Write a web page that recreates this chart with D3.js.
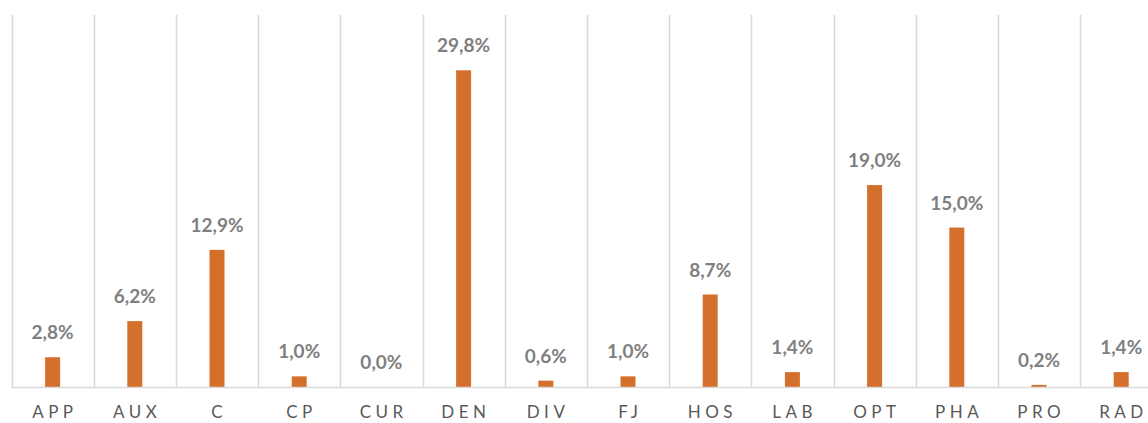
<!DOCTYPE html>
<html>
<head>
<meta charset="utf-8">
<script src="https://cdn.jsdelivr.net/npm/d3@7"></script>
<style>
  body { margin: 0; background: #fff; }
  .value-label { font-family: Lato, sans-serif; font-weight: bold; font-size: 19px; fill: #7f7f7f; }
  .cat-label { font-family: Lato, sans-serif; font-size: 17px; fill: #595959; letter-spacing: 4.5px; }
</style>
</head>
<body>
<div id="wrapper"></div>
<script>
// data
const categories = ['APP', 'AUX', 'C', 'CP', 'CUR', 'DEN', 'DIV', 'FJ', 'HOS', 'LAB', 'OPT', 'PHA', 'PRO', 'RAD']
const shares = [2.8, 6.2, 12.9, 1.0, 0.0, 29.8, 0.6, 1.0, 8.7, 1.4, 19.0, 15.0, 0.2, 1.4]

const dimensions = {
  width: 1148,
  height: 423,
  left: 11.5,
  step: 82.2,
  top: 15,
  baseline: 387,
  barWidth: 15,
}

const wrapper = d3.select('#wrapper')
  .append('svg')
    .attr('width', dimensions.width)
    .attr('height', dimensions.height)

// scales
const xScale = d3.scaleBand()
  .domain(categories)
  .range([dimensions.left, dimensions.left + dimensions.step * categories.length])

const yScale = d3.scaleLinear()
  .domain([0, 35])
  .range([dimensions.baseline, dimensions.top])

const fmt = v => v.toFixed(1).replace('.', ',') + '%'

// gridlines between categories
const edges = categories.map(c => xScale(c)).concat([xScale.range()[1]])
wrapper.append('g')
  .selectAll('line')
  .data(edges)
  .join('line')
    .attr('x1', d => Math.round(d) + 0.5)
    .attr('x2', d => Math.round(d) + 0.5)
    .attr('y1', dimensions.top)
    .attr('y2', dimensions.baseline)
    .attr('stroke', '#d9d9d9')
    .attr('stroke-width', 1.5)

// bars
wrapper.append('g')
  .selectAll('rect')
  .data(shares)
  .join('rect')
    .attr('x', (d, i) => xScale(categories[i]) + xScale.bandwidth() / 2 - dimensions.barWidth / 2)
    .attr('y', d => yScale(d))
    .attr('width', dimensions.barWidth)
    .attr('height', d => Math.max(0, dimensions.baseline - yScale(d)))
    .attr('fill', '#d4702b')

// baseline
wrapper.append('line')
  .attr('x1', dimensions.left)
  .attr('x2', dimensions.width)
  .attr('y1', dimensions.baseline + 0.5)
  .attr('y2', dimensions.baseline + 0.5)
  .attr('stroke', '#d9d9d9')
  .attr('stroke-width', 1.5)

// value labels
wrapper.append('g')
  .selectAll('text')
  .data(shares)
  .join('text')
    .attr('class', 'value-label')
    .attr('x', (d, i) => xScale(categories[i]) + xScale.bandwidth() / 2)
    .attr('y', d => yScale(d) - 18)
    .attr('text-anchor', 'middle')
    .text(fmt)

// category labels
wrapper.append('g')
  .selectAll('text')
  .data(categories)
  .join('text')
    .attr('class', 'cat-label')
    .attr('x', d => xScale(d) + xScale.bandwidth() / 2 + 2.25)
    .attr('y', 418)
    .attr('text-anchor', 'middle')
    .text(d => d)
</script>
</body>
</html>
